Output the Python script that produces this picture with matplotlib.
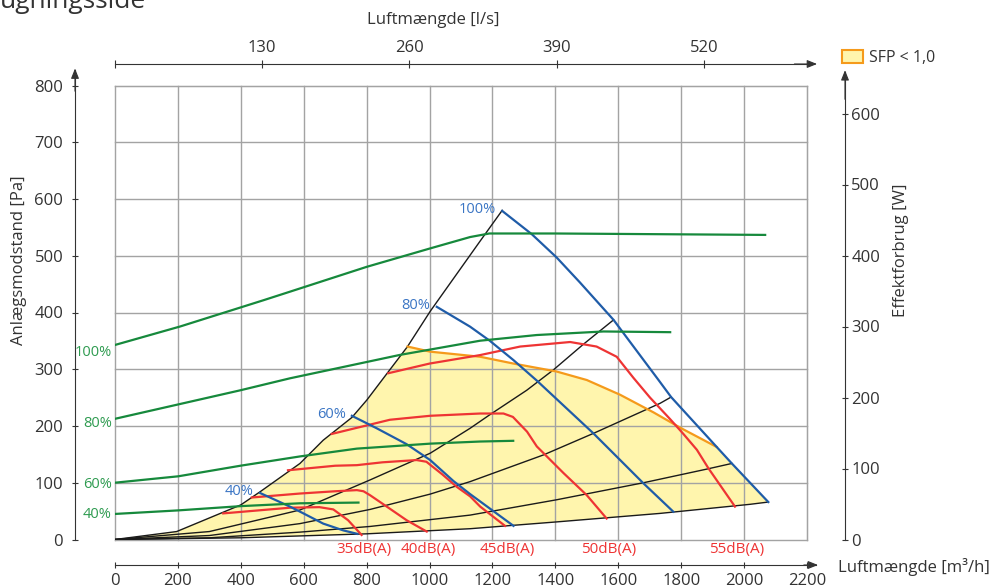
#%% Bibliotheken

import numpy as np
import matplotlib
matplotlib.use("Agg")
import matplotlib.pyplot as plt
from matplotlib.patches import Patch

plt.rcParams['font.family'] = ['Open Sans', 'DejaVu Sans']
plt.rcParams['font.size'] = 12

#%% Daten

# Systemkurver (sort): luftmængde [m3/h], tryk [Pa]
k1_x = [0, 196, 400, 461, 588, 662, 753, 801, 853, 930, 1002, 1161, 1231]
k1_y = [0, 14, 61, 84, 134, 175, 215, 246, 284, 340, 402, 526, 580]
k2_x = [0, 300, 588, 811, 1002, 1129, 1192, 1309, 1394, 1489, 1585]
k2_y = [0, 14, 52, 105, 152, 196, 220, 263, 299, 344, 387]
k3_x = [0, 300, 588, 811, 1002, 1129, 1362, 1521, 1733, 1768]
k3_y = [0, 7, 28, 53, 80, 102, 149, 187, 240, 251]
k4_x = [0, 300, 588, 811, 1129, 1404, 1680, 1881, 1961]
k4_y = [0, 3, 13, 23, 43, 70, 100, 124, 134]
k5_x = [0, 400, 800, 1129, 1404, 1733, 2019, 2077]
k5_y = [0, 3, 10, 19, 31, 46, 62, 66]

# Ventilatorkurver (blå) 100/80/60/40 %
b100_x = [1231, 1325, 1404, 1478, 1585, 1728, 1768, 1913, 1961, 2077]
b100_y = [579, 538, 497, 453, 387, 281, 251, 163, 134, 66]
b80_x = [1023, 1129, 1192, 1267, 1341, 1521, 1606, 1680, 1775]
b80_y = [410, 375, 350, 316, 280, 187, 140, 99, 49]
b60_x = [753, 832, 927, 1002, 1076, 1129, 1203, 1267]
b60_y = [218, 196, 168, 140, 103, 80, 50, 24]
b40_x = [461, 556, 599, 662, 726, 770]
b40_y = [82, 58, 46, 28, 16, 10]
blue_labels = ['100%', '80%', '60%', '40%']

# SFP < 1,0 grænse (orange)
sfp_x = [930, 1002, 1161, 1267, 1404, 1500, 1606, 1712, 1797, 1913]
sfp_y = [340, 331, 322, 310, 296, 281, 255, 224, 197, 163]

# Lydkurver (rød) dB(A)
r35_x = [344, 450, 556, 650, 694, 741, 784]
r35_y = [46, 51, 56, 57, 53, 34, 8]
r40_x = [435, 588, 700, 769, 790, 811, 864, 927, 991]
r40_y = [74, 81, 85, 87, 85, 78, 58, 34, 14]
r45_x = [550, 700, 769, 850, 959, 990, 1040, 1086, 1129, 1161, 1240]
r45_y = [122, 130, 131, 136, 140, 137, 115, 93, 76, 58, 24]
r50_x = [689, 874, 1002, 1161, 1235, 1265, 1310, 1341, 1426, 1500, 1563]
r50_y = [186, 211, 218, 222, 222, 216, 190, 164, 117, 78, 37]
r55_x = [869, 1000, 1161, 1288, 1447, 1531, 1595, 1648, 1701, 1765, 1807, 1850, 1886, 1971]
r55_y = [293, 310, 325, 340, 348, 340, 322, 285, 250, 212, 186, 158, 126, 58]
red_labels = ['35dB(A)', '40dB(A)', '45dB(A)', '50dB(A)', '55dB(A)']

# Effektforbrug (grøn) [W]
g100_x = [0, 207, 472, 556, 800, 1002, 1129, 1190, 1400, 1733, 2067]
g100_y = [274, 300, 337, 349, 384, 410, 426, 431, 431, 430, 429]
g80_x = [0, 397, 556, 800, 906, 1161, 1341, 1553, 1765]
g80_y = [170, 210, 227, 250, 260, 280, 288, 293, 292]
g60_x = [0, 201, 400, 588, 769, 1002, 1161, 1266]
g60_y = [80, 89, 104, 117, 128, 135, 138, 139]
g40_x = [0, 201, 400, 588, 774]
g40_y = [36, 41, 47, 51, 52]
green_labels = ['100%', '80%', '60%', '40%']

#%% Farver

c_green = '#16893c'
c_blue = '#1f5ca8'
c_red = '#ee3434'
c_orange = '#f59a1b'
c_yellow = '#fff5ad'
c_axis = '#333333'
c_grid = '#a3a3a3'

#%% Figur

W, H = 997, 588
fig = plt.figure(figsize=(W / 100, H / 100), dpi=100)
ax = fig.add_axes([115 / W, 1 - 539.5 / H, 692 / W, 454 / H])
ax.set_xlim(0, 2200)
ax.set_ylim(0, 800)
ax.set_xticks(np.arange(0, 2201, 200))
ax.set_yticks(np.arange(0, 801, 100))
ax.grid(True, color=c_grid, lw=1.0, clip_on=False)
ax.set_axisbelow('line')

for s in ['top', 'right']:
    ax.spines[s].set_color(c_grid)
ax.spines['left'].set_position(('outward', 40 * 0.72))
ax.spines['bottom'].set_position(('outward', 25.5 * 0.72))
ax.spines['left'].set_bounds(0, 827)
ax.spines['bottom'].set_bounds(0, 2228)
for s in ['left', 'bottom']:
    ax.spines[s].set_color(c_axis)
    ax.spines[s].set_linewidth(0.8)
ax.tick_params(direction='inout', length=5, width=0.8, color=c_axis,
               labelcolor=c_axis, labelsize=12)
ax.tick_params(axis='y', pad=6)
ax.tick_params(axis='x', pad=3)

# gult område SFP < 1,0
poly_x = k1_x[:10] + sfp_x[1:] + b100_x[-2:] + k5_x[::-1]
poly_y = k1_y[:10] + sfp_y[1:] + b100_y[-2:] + k5_y[::-1]
ax.fill(poly_x, poly_y, color=c_yellow, lw=0, zorder=1)

# systemkurver
for xs, ys in [(k1_x, k1_y), (k2_x, k2_y), (k3_x, k3_y), (k4_x, k4_y), (k5_x, k5_y)]:
    ax.plot(xs, ys, color='#1a1a1a', lw=1.0, zorder=3)

ax.plot(sfp_x, sfp_y, color=c_orange, lw=1.6, zorder=4)

red_curves = [(r35_x, r35_y), (r40_x, r40_y), (r45_x, r45_y), (r50_x, r50_y), (r55_x, r55_y)]
for (xs, ys), lab in zip(red_curves, red_labels):
    ax.plot(xs, ys, color=c_red, lw=1.6, zorder=5)
    ax.text(xs[-1] + 6, -17, lab, color=c_red, ha='center', va='center',
            fontsize=11, clip_on=False)

blue_curves = [(b100_x, b100_y), (b80_x, b80_y), (b60_x, b60_y), (b40_x, b40_y)]
for (xs, ys), lab in zip(blue_curves, blue_labels):
    ax.plot(xs, ys, color=c_blue, lw=1.6, zorder=6)
    ax.text(xs[0] - 20, ys[0] + 2, lab, color='#3a75c4', ha='right',
            va='center', fontsize=10.5)

# pile på akserne
arrow = dict(arrowstyle='-|>,head_length=0.5,head_width=0.2', color=c_axis,
             lw=0.8, shrinkA=0, shrinkB=0)
ax.annotate('', xy=(0, 830), xytext=(0, 790),
            xycoords=ax.spines['left'].get_spine_transform(),
            textcoords=ax.spines['left'].get_spine_transform(), arrowprops=arrow)
ax.annotate('', xy=(2235, 0), xytext=(2190, 0),
            xycoords=ax.spines['bottom'].get_spine_transform(),
            textcoords=ax.spines['bottom'].get_spine_transform(), arrowprops=arrow)

#%% Højre akse: effektforbrug [W]

axR = ax.twinx()
axR.set_ylim(0, 454 / 0.71)
axR.set_yticks(np.arange(0, 601, 100))
for s in ['left', 'top', 'bottom']:
    axR.spines[s].set_visible(False)
axR.spines['right'].set_position(('outward', 38 * 0.72))
axR.spines['right'].set_bounds(0, 658)
axR.spines['right'].set_color(c_axis)
axR.spines['right'].set_linewidth(0.8)
axR.tick_params(direction='inout', length=5, width=0.8, color=c_axis,
                labelcolor=c_axis, labelsize=12, pad=2)
axR.annotate('', xy=(1, 661), xytext=(1, 620),
             xycoords=axR.spines['right'].get_spine_transform(),
             textcoords=axR.spines['right'].get_spine_transform(), arrowprops=arrow)

green_curves = [(g100_x, g100_y), (g80_x, g80_y), (g60_x, g60_y), (g40_x, g40_y)]
for (xs, ys), lab in zip(green_curves, green_labels):
    axR.plot(xs, ys, color=c_green, lw=1.6, zorder=7)
    # etiketten sidder lidt under kurvens start
    axR.text(-10, ys[0] * 0.96, lab, color='#2e9b50', ha='right', va='center',
             fontsize=10.5)

#%% Øverste akse: luftmængde [l/s]

axT = ax.twiny()
axT.set_xlim(0, 2200 / 3.6)
axT.set_xticks([0, 130, 260, 390, 520])
axT.set_xticklabels(['', '130', '260', '390', '520'])
for s in ['left', 'right', 'bottom']:
    axT.spines[s].set_visible(False)
axT.spines['top'].set_position(('outward', 21.5 * 0.72))
axT.spines['top'].set_bounds(0, 614)
axT.spines['top'].set_color(c_axis)
axT.spines['top'].set_linewidth(0.8)
axT.tick_params(direction='inout', length=6, width=0.8, color=c_axis,
                labelcolor=c_axis, labelsize=12, pad=3)
axT.annotate('', xy=(620, 1), xytext=(600, 1),
             xycoords=axT.spines['top'].get_spine_transform(),
             textcoords=axT.spines['top'].get_spine_transform(), arrowprops=arrow)

#%% Tekster

fig.text(0, 1 - 8 / H, 'ugningsside', fontsize=19, color=c_axis,
         ha='left', va='baseline')
fig.text(433 / W, 1 - 20 / H, 'Luftmængde [l/s]', color=c_axis,
         ha='center', va='center', fontsize=12)
fig.text(838 / W, 1 - 567 / H, 'Luftmængde [m³/h]', color=c_axis,
         ha='left', va='center', fontsize=12)
fig.text(19 / W, 1 - 260 / H, 'Anlægsmodstand [Pa]', color=c_axis,
         rotation=90, ha='center', va='center', fontsize=12)
fig.text(901 / W, 1 - 250 / H, 'Effektforbrug [W]', color=c_axis,
         rotation=90, ha='center', va='center', fontsize=12)

fig.legend(handles=[Patch(facecolor=c_yellow, edgecolor=c_orange, lw=1.5,
                          label='SFP < 1,0')],
           loc='center left', bbox_to_anchor=(842 / W, 1 - 58 / H),
           frameon=False, handlelength=1.3, handleheight=0.9,
           handletextpad=0.4, borderaxespad=0, borderpad=0, fontsize=11.5,
           labelcolor=c_axis)

fig.savefig('out.png', dpi=100)
